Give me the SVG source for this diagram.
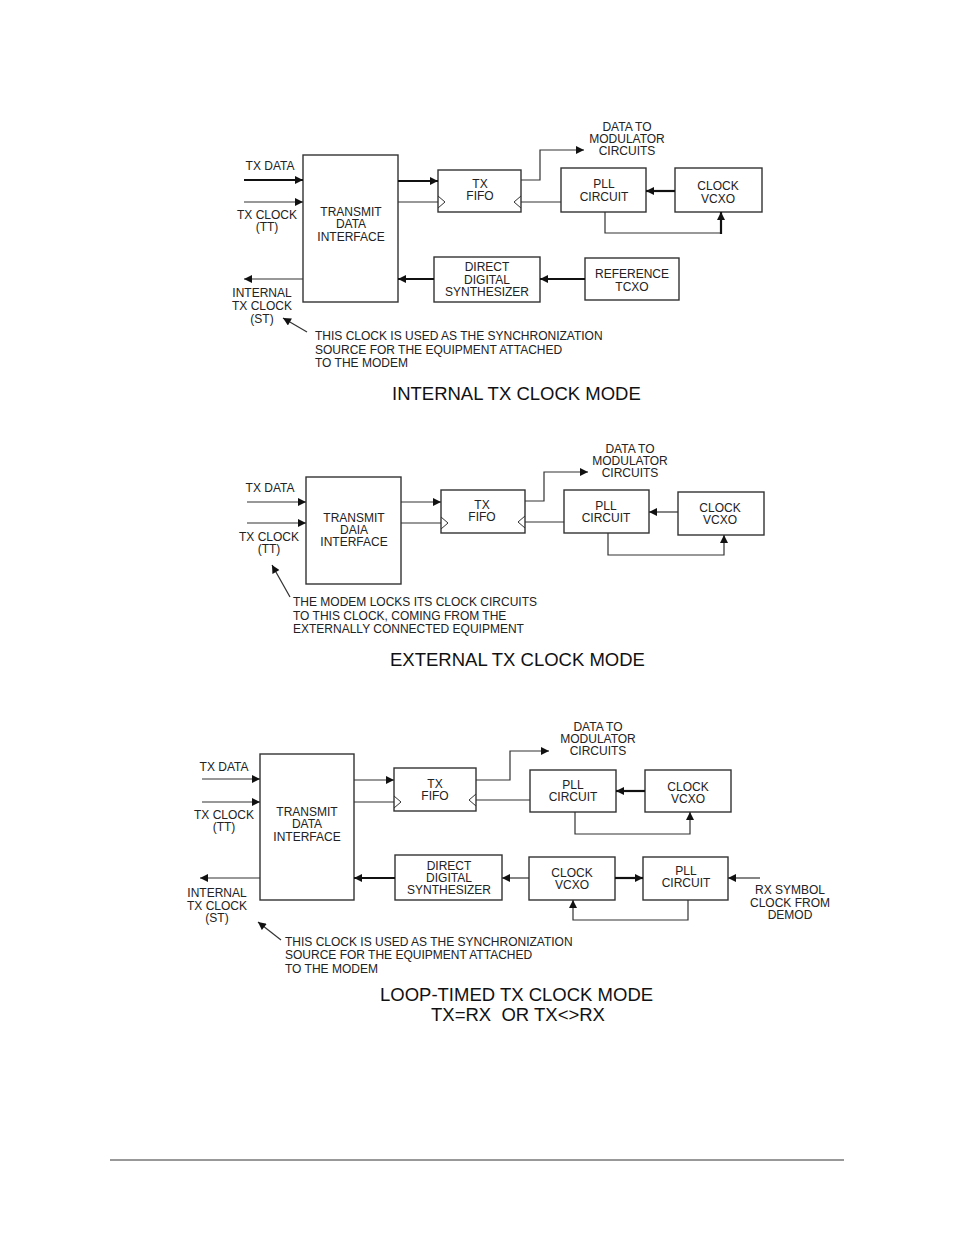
<svg xmlns="http://www.w3.org/2000/svg" width="954" height="1235" viewBox="0 0 954 1235">
<defs>
<marker id="ah" viewBox="0 0 10 10" refX="10" refY="5" markerWidth="9" markerHeight="8" markerUnits="userSpaceOnUse" orient="auto"><path d="M0,0 L10,5 L0,10 z" fill="#111"/></marker>
<style>
.bx{fill:#fff;stroke:#333;stroke-width:1.4}
.t{font-family:"Liberation Sans",Arial,sans-serif;font-size:12px;fill:#222;text-anchor:middle}
.n{font-family:"Liberation Sans",Arial,sans-serif;font-size:12px;fill:#222}
.ti{font-family:"Liberation Sans",Arial,sans-serif;font-size:18.5px;fill:#111}
.w{fill:none;stroke:#333;stroke-width:1.2}
.k{fill:none;stroke:#111;stroke-width:2.2}
.a{marker-end:url(#ah)}
.ck{fill:none;stroke:#333;stroke-width:1}
</style>
</defs>
<rect width="954" height="1235" fill="#fff"/>

<!-- ============ DIAGRAM 1 ============ -->
<g id="d1-tdi"><rect class="bx" x="303" y="155" width="95" height="147"/>
<text class="t" x="351" y="216">TRANSMIT</text><text class="t" x="351" y="228">DATA</text><text class="t" x="351" y="241">INTERFACE</text></g>
<g id="d1-fifo"><rect class="bx" x="438" y="170" width="83" height="42"/>
<text class="t" x="480" y="188">TX</text><text class="t" x="480" y="200">FIFO</text>
<path class="ck" d="M438,196 L445,202 L438,208"/><path class="ck" d="M521,196 L514,202 L521,208"/></g>
<g id="d1-pll"><rect class="bx" x="561" y="168" width="85" height="44"/>
<text class="t" x="604" y="188">PLL</text><text class="t" x="604" y="201">CIRCUIT</text></g>
<g id="d1-vcxo"><rect class="bx" x="675" y="168" width="87" height="44"/>
<text class="t" x="718" y="190">CLOCK</text><text class="t" x="718" y="203">VCXO</text></g>
<g id="d1-dds"><rect class="bx" x="434" y="257" width="106" height="45"/>
<text class="t" x="487" y="271">DIRECT</text><text class="t" x="487" y="284">DIGITAL</text><text class="t" x="487" y="296">SYNTHESIZER</text></g>
<g id="d1-ref"><rect class="bx" x="585" y="258" width="94" height="42"/>
<text class="t" x="632" y="278">REFERENCE</text><text class="t" x="632" y="291">TCXO</text></g>
<g id="d1-labels">
<text class="t" x="270" y="170">TX DATA</text>
<text class="t" x="267" y="219">TX CLOCK</text><text class="t" x="267" y="231">(TT)</text>
<text class="t" x="262" y="297">INTERNAL</text><text class="t" x="262" y="310">TX CLOCK</text><text class="t" x="262" y="323">(ST)</text>
<text class="t" x="627" y="131">DATA TO</text><text class="t" x="627" y="143">MODULATOR</text><text class="t" x="627" y="155">CIRCUITS</text>
<text class="n" x="315" y="340">THIS CLOCK IS USED AS THE SYNCHRONIZATION</text>
<text class="n" x="315" y="354">SOURCE FOR THE EQUIPMENT ATTACHED</text>
<text class="n" x="315" y="367">TO THE MODEM</text>
<text class="ti" x="392" y="400">INTERNAL TX CLOCK MODE</text>
</g>
<g id="d1-connectors">
<line class="k a" x1="244" y1="180" x2="303" y2="180"/>
<line class="w a" x1="244" y1="202" x2="303" y2="202"/>
<line class="w a" x1="303" y1="279" x2="244" y2="279"/>
<line class="k a" x1="398" y1="181" x2="438" y2="181"/>
<line class="w" x1="398" y1="202" x2="438" y2="202"/>
<polyline class="w a" points="521,180 540,180 540,150 584,150"/>
<line class="w" x1="561" y1="202" x2="521" y2="202"/>
<line class="k a" x1="675" y1="191" x2="646" y2="191"/>
<polyline class="w" points="605,212 605,233 721,233 721,222"/>
<line class="k a" x1="721" y1="234" x2="721" y2="212"/>
<line class="k a" x1="585" y1="279" x2="540" y2="279"/>
<line class="k a" x1="434" y1="279" x2="398" y2="279"/>
<line class="w a" x1="307" y1="332" x2="283" y2="318"/>
</g>

<!-- ============ DIAGRAM 2 ============ -->
<g id="d2-tdi"><rect class="bx" x="306" y="477" width="95" height="107"/>
<text class="t" x="354" y="522">TRANSMIT</text><text class="t" x="354" y="534">DAIA</text><text class="t" x="354" y="546">INTERFACE</text></g>
<g id="d2-fifo"><rect class="bx" x="441" y="490" width="84" height="43"/>
<text class="t" x="482" y="509">TX</text><text class="t" x="482" y="521">FIFO</text>
<path class="ck" d="M441,517 L448,523 L441,529"/><path class="ck" d="M525,516 L518,522 L525,528"/></g>
<g id="d2-pll"><rect class="bx" x="564" y="490" width="85" height="43"/>
<text class="t" x="606" y="510">PLL</text><text class="t" x="606" y="522">CIRCUIT</text></g>
<g id="d2-vcxo"><rect class="bx" x="678" y="492" width="86" height="43"/>
<text class="t" x="720" y="512">CLOCK</text><text class="t" x="720" y="524">VCXO</text></g>
<g id="d2-labels">
<text class="t" x="270" y="492">TX DATA</text>
<text class="t" x="269" y="541">TX CLOCK</text><text class="t" x="269" y="553">(TT)</text>
<text class="t" x="630" y="453">DATA TO</text><text class="t" x="630" y="465">MODULATOR</text><text class="t" x="630" y="477">CIRCUITS</text>
<text class="n" x="293" y="606">THE MODEM LOCKS ITS CLOCK CIRCUITS</text>
<text class="n" x="293" y="620">TO THIS CLOCK, COMING FROM THE</text>
<text class="n" x="293" y="633">EXTERNALLY CONNECTED EQUIPMENT</text>
<text class="ti" x="390" y="666">EXTERNAL TX CLOCK MODE</text>
</g>
<g id="d2-connectors">
<line class="w a" x1="247" y1="502" x2="306" y2="502"/>
<line class="w a" x1="247" y1="523" x2="306" y2="523"/>
<line class="w a" x1="401" y1="502" x2="441" y2="502"/>
<line class="w" x1="401" y1="523" x2="441" y2="523"/>
<polyline class="w a" points="525,501 544,501 544,472 588,472"/>
<line class="w" x1="564" y1="522" x2="525" y2="522"/>
<line class="w a" x1="678" y1="512" x2="649" y2="512"/>
<polyline class="w a" points="608,533 608,555 724,555 724,535"/>
<line class="w a" x1="290" y1="597" x2="272" y2="565"/>
</g>

<!-- ============ DIAGRAM 3 ============ -->
<g id="d3-tdi"><rect class="bx" x="260" y="754" width="94" height="146"/>
<text class="t" x="307" y="816">TRANSMIT</text><text class="t" x="307" y="828">DATA</text><text class="t" x="307" y="841">INTERFACE</text></g>
<g id="d3-fifo"><rect class="bx" x="394" y="768" width="82" height="43"/>
<text class="t" x="435" y="788">TX</text><text class="t" x="435" y="800">FIFO</text>
<path class="ck" d="M394,796 L401,802 L394,808"/><path class="ck" d="M476,794 L469,800 L476,806"/></g>
<g id="d3-pll"><rect class="bx" x="530" y="770" width="86" height="42"/>
<text class="t" x="573" y="789">PLL</text><text class="t" x="573" y="801">CIRCUIT</text></g>
<g id="d3-vcxo"><rect class="bx" x="645" y="770" width="86" height="42"/>
<text class="t" x="688" y="791">CLOCK</text><text class="t" x="688" y="803">VCXO</text></g>
<g id="d3-dds"><rect class="bx" x="395" y="855" width="107" height="45"/>
<text class="t" x="449" y="870">DIRECT</text><text class="t" x="449" y="882">DIGITAL</text><text class="t" x="449" y="894">SYNTHESIZER</text></g>
<g id="d3-vcxo2"><rect class="bx" x="529" y="857" width="86" height="43"/>
<text class="t" x="572" y="877">CLOCK</text><text class="t" x="572" y="889">VCXO</text></g>
<g id="d3-pll2"><rect class="bx" x="643" y="857" width="85" height="43"/>
<text class="t" x="686" y="875">PLL</text><text class="t" x="686" y="887">CIRCUIT</text></g>
<g id="d3-labels">
<text class="t" x="224" y="771">TX DATA</text>
<text class="t" x="224" y="819">TX CLOCK</text><text class="t" x="224" y="831">(TT)</text>
<text class="t" x="217" y="897">INTERNAL</text><text class="t" x="217" y="910">TX CLOCK</text><text class="t" x="217" y="922">(ST)</text>
<text class="t" x="598" y="731">DATA TO</text><text class="t" x="598" y="743">MODULATOR</text><text class="t" x="598" y="755">CIRCUITS</text>
<text class="t" x="790" y="894">RX SYMBOL</text><text class="t" x="790" y="907">CLOCK FROM</text><text class="t" x="790" y="919">DEMOD</text>
<text class="n" x="285" y="946">THIS CLOCK IS USED AS THE SYNCHRONIZATION</text>
<text class="n" x="285" y="959">SOURCE FOR THE EQUIPMENT ATTACHED</text>
<text class="n" x="285" y="973">TO THE MODEM</text>
<text class="ti" x="380" y="1001">LOOP-TIMED TX CLOCK MODE</text>
<text class="ti" x="518" y="1021" text-anchor="middle" xml:space="preserve">TX=RX  OR TX&lt;&gt;RX</text>
</g>
<g id="d3-connectors">
<line class="w a" x1="202" y1="779" x2="260" y2="779"/>
<line class="w a" x1="202" y1="802" x2="260" y2="802"/>
<line class="w a" x1="260" y1="878" x2="200" y2="878"/>
<line class="w a" x1="354" y1="780" x2="394" y2="780"/>
<line class="w" x1="354" y1="802" x2="394" y2="802"/>
<polyline class="w a" points="476,780 510,780 510,751 549,751"/>
<line class="w" x1="530" y1="800" x2="476" y2="800"/>
<line class="k a" x1="645" y1="791" x2="616" y2="791"/>
<polyline class="w a" points="575,812 575,834 690,834 690,812"/>
<line class="w a" x1="529" y1="878" x2="502" y2="878"/>
<line class="k a" x1="615" y1="878" x2="643" y2="878"/>
<line class="k a" x1="395" y1="878" x2="354" y2="878"/>
<line class="w a" x1="760" y1="878" x2="728" y2="878"/>
<polyline class="w a" points="688,900 688,920 573,920 573,900"/>
<line class="w a" x1="281" y1="940" x2="258" y2="922"/>
</g>

<line x1="110" y1="1160" x2="844" y2="1160" stroke="#333" stroke-width="1"/>
</svg>
